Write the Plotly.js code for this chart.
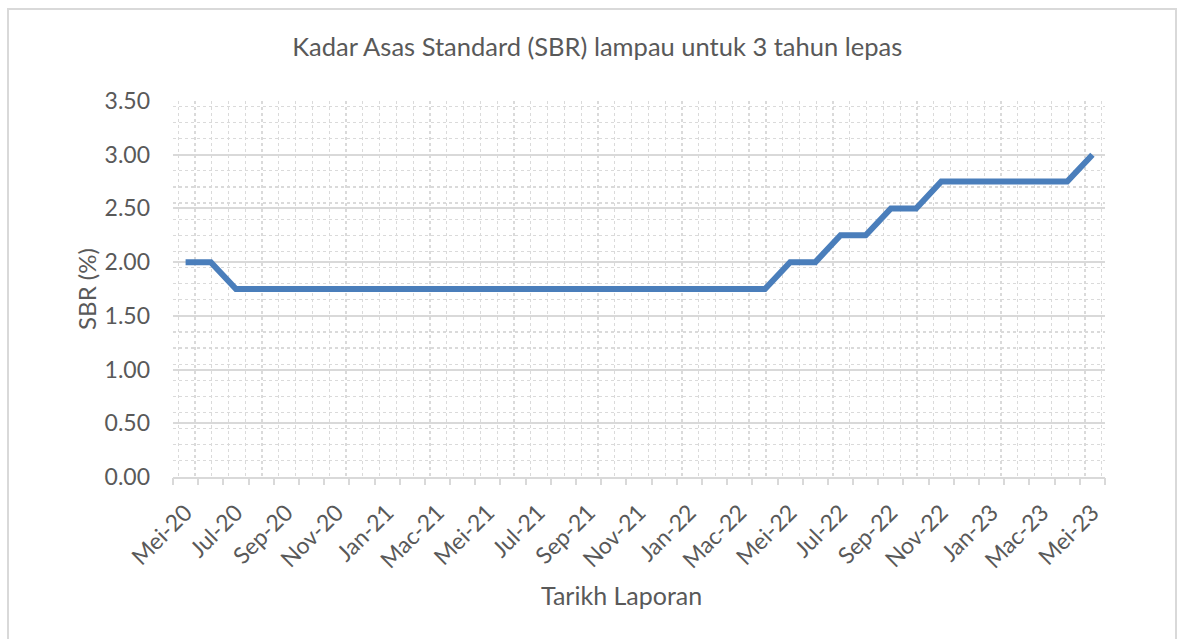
<!DOCTYPE html>
<html>
<head>
<meta charset="utf-8">
<script src="https://cdn.plot.ly/plotly-3.0.1.min.js"></script>
<style>
  html, body { margin: 0; padding: 0; background: #fff; }
  #wrap { position: relative; width: 1185px; height: 639px; overflow: hidden; }
  #chart { position: absolute; left: 0; top: 0; width: 1185px; height: 639px; }
  #frame { position: absolute; left: 7px; top: 8px; width: 1166px; height: 640px;
           border-left: 2px solid #d9d9d9; border-top: 2px solid #d9d9d9; border-right: 2px solid #d9d9d9; pointer-events: none; }
</style>
</head>
<body>
<div id="wrap"><div id="chart"></div><div id="frame"></div></div>
<script>
// Months from Mei-20 to Mei-23 (Malay month abbreviations)
const months = ["Mei-20","Jun-20","Jul-20","Ogo-20","Sep-20","Okt-20","Nov-20","Dis-20",
  "Jan-21","Feb-21","Mac-21","Apr-21","Mei-21","Jun-21","Jul-21","Ogo-21","Sep-21","Okt-21","Nov-21","Dis-21",
  "Jan-22","Feb-22","Mac-22","Apr-22","Mei-22","Jun-22","Jul-22","Ogo-22","Sep-22","Okt-22","Nov-22","Dis-22",
  "Jan-23","Feb-23","Mac-23","Apr-23","Mei-23"];
const sbr = [2.00,2.00,1.75,1.75,1.75,1.75,1.75,1.75,
  1.75,1.75,1.75,1.75,1.75,1.75,1.75,1.75,1.75,1.75,1.75,1.75,
  1.75,1.75,1.75,1.75,2.00,2.00,2.25,2.25,2.50,2.50,2.75,2.75,
  2.75,2.75,2.75,2.75,3.00];
const tickLabels = months.filter((m, i) => i % 2 === 0);

const idx = months.map((m, i) => i);
const labelPos = idx.filter(i => i % 2 === 0);
const boundaries = [];
for (let i = 0; i <= months.length; i++) boundaries.push(i - 0.5);

const font = "Lato, 'Open Sans', sans-serif";
const grey = "#595959";

const trace = {
  x: idx, y: sbr, type: "scatter", mode: "lines",
  line: { color: "#4a7ebb", width: 6, shape: "linear" },
  text: months, hoverinfo: "text+y", showlegend: false
};
// invisible helper trace for tick-mark axis
const helper = { x: [-0.5, 36.5], y: [0, 0], xaxis: "x2", yaxis: "y", mode: "markers",
  marker: { opacity: 0 }, hoverinfo: "skip", showlegend: false };

const layout = {
  width: 1185, height: 639,
  margin: { l: 173, r: 80, t: 101, b: 162 },
  paper_bgcolor: "rgba(0,0,0,0)", plot_bgcolor: "#fff",
  font: { family: font, color: grey, size: 23 },
  title: { text: "Kadar Asas Standard (SBR) lampau untuk 3 tahun lepas",
    font: { family: font, size: 25.5, color: grey }, x: 0.504, xanchor: "center", y: 0.926, yanchor: "middle" },
  xaxis: {
    type: "linear", range: [-0.5, 36.5], tickmode: "array",
    tickvals: labelPos, ticktext: tickLabels, tickangle: -45,
    ticks: "", showgrid: false, zeroline: false, ticklabelstandoff: 11,
    showline: true, linecolor: "#d9d9d9", linewidth: 2,
    tickfont: { family: font, size: 23, color: grey },
    minor: { tick0: 0.37, dtick: 0.6667, showgrid: true, gridcolor: "#dadada", griddash: "dot", gridwidth: 1.2, ticks: "" },
    fixedrange: true
  },
  xaxis2: {
    type: "linear", range: [-0.5, 36.5], overlaying: "x", anchor: "y", side: "bottom",
    tickmode: "array", tickvals: boundaries, ticks: "outside", ticklen: 7, tickwidth: 2, tickcolor: "#d9d9d9",
    showticklabels: false, showgrid: false, zeroline: false, showline: false, fixedrange: true
  },
  yaxis: {
    range: [0, 3.5], dtick: 0.5, tick0: 0, tickformat: ".2f",
    showgrid: true, gridcolor: "#d9d9d9", gridwidth: 2, zeroline: false,
    showline: false, ticks: "", ticklabelstandoff: 22,
    tickfont: { family: font, size: 23, color: grey },
    minor: { tick0: 0, dtick: 0.15, showgrid: true, gridcolor: "#dadada", griddash: "dot", gridwidth: 1.2, ticks: "" },
    title: { text: "SBR (%)", font: { family: font, size: 24, color: grey }, standoff: 1 },
    fixedrange: true
  },
  annotations: [{
    text: "Tarikh Laporan", xref: "paper", yref: "paper", x: 0.481, y: -0.315,
    xanchor: "center", yanchor: "middle", showarrow: false,
    font: { family: font, size: 25, color: grey }
  }]
};

Plotly.newPlot("chart", [trace, helper], layout, { displayModeBar: false, staticPlot: true });
</script>
</body>
</html>
